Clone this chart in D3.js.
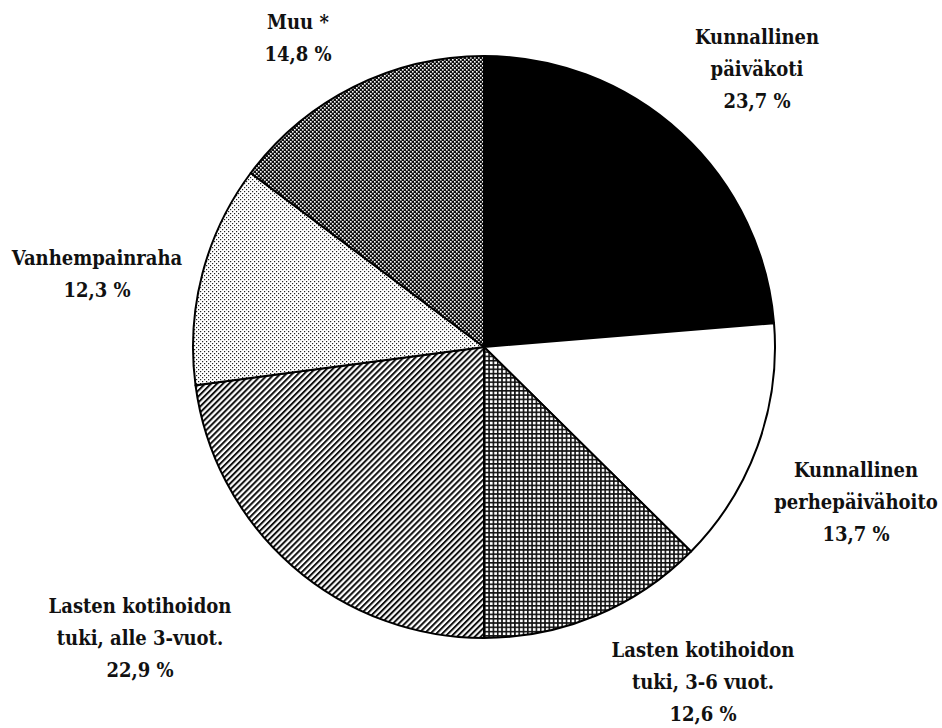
<!DOCTYPE html>
<html>
<head>
<meta charset="utf-8">
<script src="https://cdn.jsdelivr.net/npm/d3@7"></script>
<style>
  html, body { margin: 0; padding: 0; background: #fff; }
  svg { display: block; }
</style>
</head>
<body>
<div id="chart"></div>
<script>
// ---- data ----
const categories = [
  "Kunnallinen päiväkoti",
  "Kunnallinen perhepäivähoito",
  "Lasten kotihoidon tuki, 3-6 vuot.",
  "Lasten kotihoidon tuki, alle 3-vuot.",
  "Vanhempainraha",
  "Muu *"
];
const values = [23.7, 13.7, 12.6, 22.9, 12.3, 14.8];
const labelLines = [
  ["Kunnallinen", "päiväkoti"],
  ["Kunnallinen", "perhepäivähoito"],
  ["Lasten kotihoidon", "tuki, 3-6 vuot."],
  ["Lasten kotihoidon", "tuki, alle 3-vuot."],
  ["Vanhempainraha"],
  ["Muu *"]
];
const fills = ["solid", "white", "cross", "diag", "lightdots", "darkdots"];

// ---- layout (not data) ----
const W = 942, H = 728;
const cx = 484, cy = 347, R = 291;
const labelPos = [
  { x: 757, y: 44 },
  { x: 856, y: 477 },
  { x: 703, y: 657 },
  { x: 140, y: 613 },
  { x: 97,  y: 265 },
  { x: 298, y: 29 }
];
const lineGap = 32;
const FONT = "'DejaVu Serif Condensed', 'DejaVu Serif', serif";

const svg = d3.select("#chart").append("svg")
  .attr("width", W).attr("height", H);

const defs = svg.append("defs");

// dark dots
const pd = defs.append("pattern").attr("id", "darkdots")
  .attr("patternUnits", "userSpaceOnUse").attr("width", 4).attr("height", 4);
pd.append("rect").attr("width", 4).attr("height", 4).attr("fill", "#111");
pd.append("rect").attr("x", 0).attr("y", 0).attr("width", 1.6).attr("height", 1.6).attr("fill", "#fff");
pd.append("rect").attr("x", 2).attr("y", 2).attr("width", 1.6).attr("height", 1.6).attr("fill", "#fff");

// light dots
const pl = defs.append("pattern").attr("id", "lightdots")
  .attr("patternUnits", "userSpaceOnUse").attr("width", 4).attr("height", 4);
pl.append("rect").attr("width", 4).attr("height", 4).attr("fill", "#fff");
pl.append("rect").attr("x", 0).attr("y", 0).attr("width", 1.2).attr("height", 1.2).attr("fill", "#222");
pl.append("rect").attr("x", 2).attr("y", 2).attr("width", 1.2).attr("height", 1.2).attr("fill", "#222");

// diagonal hatch "/"
const pg = defs.append("pattern").attr("id", "diag")
  .attr("patternUnits", "userSpaceOnUse").attr("width", 4.2).attr("height", 4.2)
  .attr("patternTransform", "rotate(-45)");
pg.append("rect").attr("width", 4.2).attr("height", 4.2).attr("fill", "#fff");
pg.append("rect").attr("x", 0).attr("y", 0).attr("width", 4.2).attr("height", 2).attr("fill", "#111");

// crosshatch grid
const pc = defs.append("pattern").attr("id", "cross")
  .attr("patternUnits", "userSpaceOnUse").attr("width", 4.3).attr("height", 4.3);
pc.append("rect").attr("width", 4.3).attr("height", 4.3).attr("fill", "#111");
pc.append("rect").attr("x", 1.6).attr("y", 1.6).attr("width", 2.7).attr("height", 2.7).attr("fill", "#fff");

const fillFor = f => f === "solid" ? "#000" : f === "white" ? "#fff" : `url(#${f})`;

const pie = d3.pie().sort(null).value(d => d)(values);
const arc = d3.arc().innerRadius(0).outerRadius(R);

const g = svg.append("g").attr("transform", `translate(${cx},${cy})`);
g.selectAll("path.slice").data(pie).join("path")
  .attr("class", "slice")
  .attr("d", arc)
  .attr("fill", (d, i) => fillFor(fills[i]))
  .attr("stroke", "#000")
  .attr("stroke-width", 2)
  .attr("stroke-linejoin", "round");

// labels
const fmt = v => d3.format(".1f")(v).replace(".", ",") + " %";
const lg = svg.append("g");
categories.forEach((c, i) => {
  const lines = labelLines[i].concat([fmt(values[i])]);
  const t = lg.append("text")
    .attr("text-anchor", "middle")
    .style("font-family", FONT)
    .style("font-weight", "bold")
    .style("font-stretch", "condensed")
    .style("font-size", "20px")
    .attr("fill", "#111")
    .attr("x", labelPos[i].x).attr("y", labelPos[i].y);
  lines.forEach((ln, j) => {
    t.append("tspan").attr("x", labelPos[i].x)
      .attr("y", labelPos[i].y + j * lineGap).text(ln);
  });
});
</script>
</body>
</html>
